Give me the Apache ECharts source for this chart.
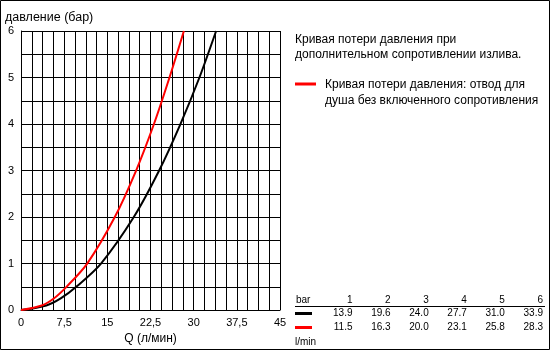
<!DOCTYPE html>
<html>
<head>
<meta charset="utf-8">
<script src="https://cdn.jsdelivr.net/npm/echarts@6/dist/echarts.min.js"></script>
<style>
html,body{margin:0;padding:0;background:#fff;}
#c{width:550px;height:350px;}
</style>
</head>
<body>
<div id="c"></div>
<script>
// Table values (pressure in bar, flow in l/min)
const pressureBar = [1, 2, 3, 4, 5, 6];
const flowBlack = [13.9, 19.6, 24.0, 27.7, 31.0, 33.9];
const flowRed = [11.5, 16.3, 20.0, 23.1, 25.8, 28.3];
// Low-pressure part of the curves
const lowPressure = [0, 0.1, 0.25, 0.5];
const lowFlowBlack = [0, 4.4, 6.9, 9.6];
const lowFlowRed = [0, 3.6, 5.7, 7.9];
// Texts
const yTitle = 'давление (бар)';
const xTitle = 'Q (л/мин)';
const note1 = ['Кривая потери давления при', 'дополнительном сопротивлении излива.'];
const note2 = ['Кривая потери давления: отвод для', 'душа без включенного сопротивления'];
const tableHead = 'bar';
const tableUnit = 'l/min';

function pts(lp, lq, p, q) {
  const out = [];
  for (let i = 0; i < lp.length; i++) out.push([lq[i], lp[i]]);
  for (let i = 0; i < p.length; i++) out.push([q[i], p[i]]);
  return out;
}

const chart = echarts.init(document.getElementById('c'), null, {renderer: 'canvas'});
const FONT = 'Arial, "Liberation Sans", sans-serif';

const graphics = [
  {type: 'rect', shape: {x: 0.5, y: 0.5, width: 549, height: 349}, style: {fill: 'none', stroke: '#000', lineWidth: 1}, silent: true},
  {type: 'text', x: 5, y: 18, style: {text: yTitle, font: '12.5px ' + FONT, fill: '#000', verticalAlign: 'middle'}},
  {type: 'text', x: 295, y: 40, style: {text: note1[0], font: '12px ' + FONT, fill: '#000', verticalAlign: 'middle'}},
  {type: 'text', x: 295, y: 55, style: {text: note1[1], font: '12px ' + FONT, fill: '#000', verticalAlign: 'middle'}},
  {type: 'line', shape: {x1: 295, y1: 84, x2: 316, y2: 84}, style: {stroke: '#ff0000', lineWidth: 3}},
  {type: 'text', x: 325, y: 85, style: {text: note2[0], font: '12px ' + FONT, fill: '#000', verticalAlign: 'middle'}},
  {type: 'text', x: 325, y: 100.5, style: {text: note2[1], font: '12px ' + FONT, fill: '#000', verticalAlign: 'middle'}},
  // table
  {type: 'text', x: 296, y: 300, style: {text: tableHead, font: '10px ' + FONT, fill: '#000', verticalAlign: 'middle'}},
  {type: 'line', shape: {x1: 295, y1: 306.5, x2: 545, y2: 306.5}, style: {stroke: '#000', lineWidth: 1}},
  {type: 'line', shape: {x1: 295, y1: 313.5, x2: 312, y2: 313.5}, style: {stroke: '#000', lineWidth: 3}},
  {type: 'line', shape: {x1: 295, y1: 327.5, x2: 312, y2: 327.5}, style: {stroke: '#ff0000', lineWidth: 3}},
  {type: 'text', x: 295, y: 342, style: {text: tableUnit, font: '10px ' + FONT, fill: '#000', verticalAlign: 'middle'}}
];
for (let i = 0; i < pressureBar.length; i++) {
  const xr = 352.5 + 38.1 * i;
  graphics.push({type: 'text', x: xr, y: 300, style: {text: String(pressureBar[i]), font: '10px ' + FONT, fill: '#000', align: 'right', verticalAlign: 'middle'}});
  graphics.push({type: 'text', x: xr, y: 313.5, style: {text: flowBlack[i].toFixed(1), font: '10px ' + FONT, fill: '#000', align: 'right', verticalAlign: 'middle'}});
  graphics.push({type: 'text', x: xr, y: 327.5, style: {text: flowRed[i].toFixed(1), font: '10px ' + FONT, fill: '#000', align: 'right', verticalAlign: 'middle'}});
}

const option = {
  backgroundColor: '#ffffff',
  animation: false,
  grid: {left: 21, top: 31, right: 270, bottom: 37, containLabel: false},
  xAxis: {
    type: 'value', min: 0, max: 45, interval: 1.875,
    name: xTitle, nameLocation: 'middle', nameGap: 21,
    nameTextStyle: {color: '#000', fontSize: 12, fontFamily: FONT},
    axisLine: {show: true, lineStyle: {color: '#000', width: 1}},
    axisTick: {show: false},
    splitLine: {show: true, lineStyle: {color: '#000', width: 1}},
    axisLabel: {
      color: '#000', fontSize: 11, fontFamily: FONT, margin: 7,
      showMinLabel: true, showMaxLabel: true, hideOverlap: false,
      formatter: function (v) {
        const k = v / 7.5;
        if (Math.abs(k - Math.round(k)) < 1e-6) return String(Math.round(v * 10) / 10).replace('.', ',');
        return '';
      }
    }
  },
  yAxis: {
    type: 'value', min: 0, max: 6, interval: 0.5,
    axisLine: {show: true, lineStyle: {color: '#000', width: 1}},
    axisTick: {show: false},
    splitLine: {show: true, lineStyle: {color: '#000', width: 1}},
    axisLabel: {
      color: '#000', fontSize: 11, fontFamily: FONT, margin: 7,
      showMinLabel: true, showMaxLabel: true,
      formatter: function (v) {
        if (Math.abs(v - Math.round(v)) < 1e-6) return String(Math.round(v));
        return '';
      }
    }
  },
  graphic: graphics,
  series: [
    {
      type: 'line', data: pts(lowPressure, lowFlowBlack, pressureBar, flowBlack),
      smooth: 0.3, showSymbol: false, symbol: 'none',
      lineStyle: {color: '#000', width: 2}, z: 3
    },
    {
      type: 'line', data: pts(lowPressure, lowFlowRed, pressureBar, flowRed),
      smooth: 0.3, showSymbol: false, symbol: 'none',
      lineStyle: {color: '#ff0000', width: 2}, z: 4
    }
  ]
};
chart.setOption(option);
</script>
</body>
</html>
